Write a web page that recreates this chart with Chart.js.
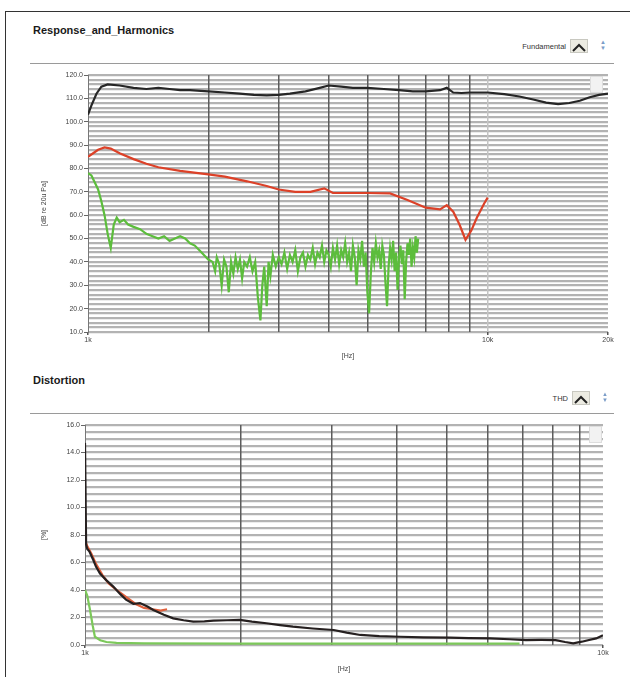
<!DOCTYPE html>
<html>
<head>
<meta charset="utf-8">
<script src="https://cdn.jsdelivr.net/npm/chart.js@4.4.1/dist/chart.umd.min.js"></script>
<style>
  body { margin: 0; width: 630px; height: 677px; background: #fff; position: relative; overflow: hidden;
         font-family: "Liberation Sans", Arial, sans-serif; }
  .frame { position: absolute; left: 5px; top: 11px; width: 700px; height: 700px;
           border-left: 1.5px solid #333; border-top: 1.5px solid #333; }
  .title { position: absolute; left: 33px; font-weight: bold; font-size: 11px; color: #1a1a1a; }
  .sep { position: absolute; left: 30px; width: 584px; height: 1px; background: #9a9a9a; }
  .leg { position: absolute; font-size: 7.5px; color: #333; white-space: nowrap; text-align: right; width: 60px; }
  .icon { position: absolute; width: 16px; height: 12px; border: 1px solid #c8c8c0; background: #ecebe2; }
  .spin { position: absolute; width: 6px; font-size: 6px; line-height: 6px; color: #7a9cc8; text-align: center; }
  .palette { position: absolute; width: 11px; height: 15px; background: #f2f2f2; border: 1px solid #ddd; }
  .wrap { position: absolute; left: 20px; width: 600px; }
</style>
</head>
<body>
<div class="frame"></div>

<div class="title" style="top:24px">Response_and_Harmonics</div>
<div class="leg" style="top:42px; left:506px">Fundamental</div>
<div class="icon" style="top:39px; left:570px">
  <svg width="16" height="12"><polyline points="2,9 8,3 14,9" fill="none" stroke="#222" stroke-width="2"/></svg>
</div>
<div class="spin" style="top:39px; left:600px">&#9650;<br>&#9660;</div>
<div class="sep" style="top:63px"></div>
<div class="wrap" style="top:64px; height:300px"><canvas id="chart-response" width="600" height="300"></canvas></div>
<div class="palette" style="top:76px; left:590px"></div>

<div class="title" style="top:374px">Distortion</div>
<div class="leg" style="top:394px; left:508px">THD</div>
<div class="icon" style="top:391px; left:572px">
  <svg width="16" height="12"><polyline points="2,9 8,3 14,9" fill="none" stroke="#222" stroke-width="2"/></svg>
</div>
<div class="spin" style="top:391px; left:602px">&#9650;<br>&#9660;</div>
<div class="sep" style="top:413px"></div>
<div class="wrap" style="top:414px; height:263px"><canvas id="chart-distortion" width="600" height="263"></canvas></div>
<div class="palette" style="top:426px; left:589px"></div>

<script>
// Response_and_Harmonics
const fundFreq = [1000, 1020, 1050, 1080, 1120, 1200, 1300, 1400, 1500, 1600, 1700, 1800, 2000, 2200, 2400, 2600, 2800,
    3000, 3200, 3500, 3800, 4000, 4300, 4600, 5000, 5500, 6000, 6500, 7000, 7600, 7900, 8200, 8600, 9000, 10000,
    11000, 12000, 13000, 14000, 15000, 16000, 17000, 18000, 19000, 20000];
const fundLevel = [103, 107, 112, 115, 116, 115.5, 114.5, 114, 114.5, 114, 113.5, 113.5, 113, 112.5, 112, 111.5, 111.3,
    111.5, 112, 113, 114.5, 115.5, 115, 114.5, 114.5, 114, 113.5, 113, 113, 113.5, 114.5, 112.5, 112.3, 112.5, 112.5,
    111.8, 110.8, 109.5, 108.2, 107.5, 108, 109, 110.5, 111.5, 112];

const h2Freq = [1000, 1030, 1060, 1100, 1140, 1200, 1300, 1400, 1500, 1700, 2000, 2200, 2500, 2800, 3000, 3300, 3600,
    3900, 4100, 4500, 5000, 5700, 6300, 7000, 7600, 7900, 8200, 8500, 8800, 9100, 9400, 9800, 10000];
const h2Level = [85, 86.5, 88, 89, 88.5, 86.5, 84, 82, 80.5, 79, 77.5, 76.5, 74.5, 72.5, 71, 70, 70,
    71.5, 69.5, 69.5, 69.5, 69.3, 66.5, 63.2, 62.5, 64.3, 61.5, 56, 49.5, 53.5, 59, 65, 67.5];

const h3Freq = [1000, 1020, 1040, 1060, 1080, 1100, 1120, 1140, 1160, 1180, 1200, 1230, 1260, 1300, 1350, 1400, 1450,
    1500, 1550, 1600, 1650, 1700, 1750, 1800, 1850, 1900, 1950, 2000, 2050, 2080, 2100, 2130, 2160, 2190, 2220, 2250,
    2280, 2310, 2340, 2370, 2400, 2430, 2460, 2500, 2540, 2580, 2620, 2660, 2700, 2730, 2760, 2800, 2830, 2860, 2900,
    2950, 3000, 3050, 3100, 3150, 3200, 3250, 3300, 3350, 3400, 3450, 3500, 3550, 3600, 3650, 3700, 3750, 3800, 3850,
    3900, 3950, 4000, 4050, 4100, 4150, 4200, 4250, 4300, 4350, 4400, 4450, 4500, 4550, 4600, 4650, 4700, 4750, 4800,
    4850, 4900, 4950, 5000, 5050, 5100, 5150, 5200, 5250, 5300, 5350, 5400, 5450, 5500, 5550, 5600, 5650, 5700, 5750,
    5800, 5850, 5900, 5950, 6000, 6050, 6100, 6150, 6200, 6250, 6300, 6350, 6400, 6450, 6500, 6550, 6600, 6650, 6700];
const h3Level = [78, 77, 74, 71, 66, 60, 52, 46, 56, 59, 57, 58, 56, 55, 54, 52, 51,
    50, 51, 49, 50, 51, 50, 48, 47, 45, 43, 41, 40, 36, 42, 39, 30, 41, 38, 27,
    40, 35, 42, 37, 41, 33, 40, 38, 42, 36, 40, 25, 15, 30, 38, 21, 40, 34, 43,
    38, 42, 39, 44, 37, 43, 40, 45, 36, 42, 44, 38, 43, 41, 46, 39, 44, 42, 47,
    40, 45, 43, 38, 46, 41, 47, 39, 45, 42, 48, 40, 44, 36, 47, 42, 30, 45, 41,
    49, 38, 44, 27, 18, 35, 46, 40, 48, 42, 45, 37, 47, 43, 31, 21, 38, 46, 41,
    49, 36, 44, 28, 42, 47, 39, 45, 24, 40, 48, 43, 50, 38, 46, 42, 51, 44, 50];

// Distortion
const thdFreq = [1000, 1005, 1010, 1020, 1037, 1050, 1069, 1100, 1134, 1170, 1200, 1240, 1277, 1320, 1355, 1420, 1480,
    1550, 1618, 1700, 1770, 1880, 1990, 2100, 2240, 2380, 2520, 2750, 3020, 3200, 3400, 3700, 4060, 4500, 5060, 5500,
    6050, 6600, 7100, 7600, 8100, 8450, 8760, 9100, 9400, 9700, 10000];
const thdLevel = [14.7, 7.3, 7.0, 6.8, 6.2, 5.7, 5.2, 4.7, 4.25, 3.7, 3.3, 3.0, 3.05, 2.8, 2.55, 2.2, 1.94,
    1.8, 1.7, 1.72, 1.77, 1.8, 1.82, 1.7, 1.58, 1.45, 1.33, 1.2, 1.09, 0.9, 0.73, 0.65, 0.6, 0.56, 0.53, 0.5,
    0.48, 0.42, 0.36, 0.37, 0.36, 0.22, 0.12, 0.24, 0.36, 0.48, 0.7];
const d2Freq = [1000, 1010, 1030, 1050, 1080, 1110, 1150, 1200, 1250, 1300, 1350, 1400, 1440];
const d2Level = [7.6, 7.2, 6.6, 5.9, 5.1, 4.5, 4.0, 3.5, 3.0, 2.7, 2.6, 2.5, 2.6];
const d3Freq = [1000, 1010, 1022, 1035, 1045, 1070, 1100, 1150, 1300, 2000, 4000, 6900];
const d3Level = [4.0, 3.6, 2.6, 1.4, 0.6, 0.35, 0.22, 0.15, 0.12, 0.1, 0.1, 0.1];

const respTicks = [1000, 2000, 3000, 4000, 5000, 6000, 7000, 8000, 9000, 10000, 20000];
const distTicks = [1000, 2000, 3000, 4000, 5000, 6000, 7000, 8000, 9000, 10000];
const freqLabels = { 1000: "1k", 10000: "10k", 20000: "20k" };

const toPoints = (xs, ys) => xs.map((x, i) => ({ x: x, y: ys[i] }));

function lineSet(label, xs, ys, color, order) {
    return {
        label: label,
        data: toPoints(xs, ys),
        borderColor: color,
        borderWidth: 2.2,
        pointRadius: 0,
        tension: 0,
        order: order
    };
}

function makeOptions(xMax, tickList, yMin, yMax, yStep, minorStep, yTitle, yWidth, padRight) {
    const tickFont = { family: "Liberation Sans", size: 7 };
    return {
        responsive: false,
        animation: false,
        layout: { padding: { top: 11, right: padRight, left: 0, bottom: 0 } },
        plugins: { legend: { display: false }, tooltip: { enabled: false } },
        scales: {
            x: {
                type: "logarithmic",
                min: 1000,
                max: xMax,
                afterBuildTicks: scale => { scale.ticks = tickList.map(v => ({ value: v })); },
                afterFit: scale => { scale.height = 32; },
                ticks: {
                    autoSkip: false, maxRotation: 0, padding: 1,
                    color: "#444", font: tickFont,
                    callback: v => freqLabels[v] || ""
                },
                grid: {
                    z: -1,
                    lineWidth: 1.5,
                    tickLength: 3,
                    color: ctx => {
                        const v = ctx.tick ? ctx.tick.value : 0;
                        if (v > 1000 && v < 10000) return "#5c5c5c";
                        if (v === 10000 && xMax > 10000) return "#c4c4c4";
                        return "rgba(0,0,0,0)";
                    },
                    tickColor: ctx => freqLabels[ctx.tick ? ctx.tick.value : 0] ? "#555" : "rgba(0,0,0,0)"
                },
                border: { display: false },
                title: { display: true, text: "[Hz]", color: "#444", font: tickFont, padding: { top: 0, bottom: 4 } }
            },
            yMinor: {
                type: "linear",
                position: "left",
                min: yMin,
                max: yMax,
                afterFit: scale => { scale.width = 0; },
                ticks: { display: false, stepSize: minorStep },
                grid: { z: -2, color: "#b3b3b3", lineWidth: 2.2, drawTicks: false },
                border: { display: false }
            },
            y: {
                type: "linear",
                position: "left",
                min: yMin,
                max: yMax,
                afterFit: scale => { scale.width = yWidth; },
                ticks: {
                    stepSize: yStep, padding: 1, color: "#444", font: tickFont,
                    callback: v => Number(v).toFixed(1)
                },
                grid: { drawOnChartArea: false, tickLength: 4, color: "#666" },
                border: { display: true, color: "#777", width: 1 },
                title: { display: true, text: yTitle, color: "#444", font: tickFont, padding: { top: 20, bottom: 0 } }
            }
        }
    };
}

new Chart(document.getElementById("chart-response"), {
    type: "line",
    data: {
        datasets: [
            lineSet("Fundamental", fundFreq, fundLevel, "#262626", 1),
            lineSet("2nd harmonic", h2Freq, h2Level, "#dc4128", 2),
            lineSet("3rd harmonic", h3Freq, h3Level, "#5cbd3c", 3)
        ]
    },
    options: makeOptions(20000, respTicks, 10, 120, 10, 2, "[dB re 20u Pa]", 68, 12)
});

new Chart(document.getElementById("chart-distortion"), {
    type: "line",
    data: {
        datasets: [
            lineSet("THD", thdFreq, thdLevel, "#262020", 1),
            lineSet("2nd harmonic", d2Freq, d2Level, "#e0603c", 2),
            lineSet("3rd harmonic", d3Freq, d3Level, "#7cc85a", 3)
        ]
    },
    options: makeOptions(10000, distTicks, 0, 16, 2, 0.5, "[%]", 65, 17)
});
</script>
</body>
</html>
